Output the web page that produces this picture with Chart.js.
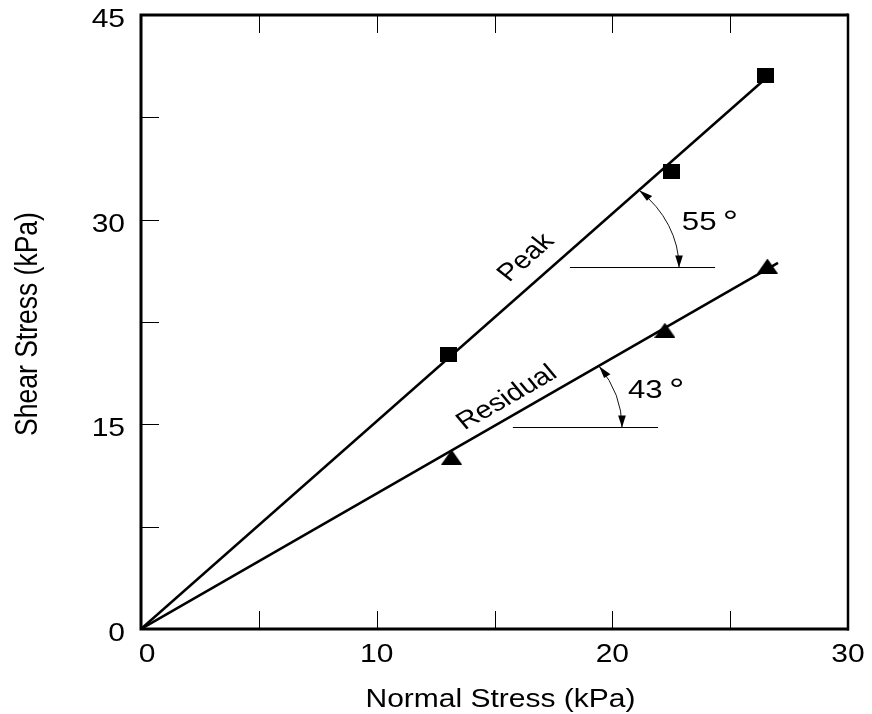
<!DOCTYPE html>
<html>
<head>
<meta charset="utf-8">
<script src="https://cdn.jsdelivr.net/npm/chart.js@4/dist/chart.umd.min.js"></script>
<style>
  html, body { margin: 0; padding: 0; background: #ffffff; }
  canvas { display: block; }
</style>
</head>
<body>
<canvas id="c" width="872" height="714"></canvas>
<script>
// ---- Data (kPa) ----
const peakNormal      = [13.05, 22.51, 26.48];
const peakShear       = [20.1, 33.5, 40.6];
const residualNormal  = [13.18, 22.23, 26.58];
const residualShear   = [12.6, 21.9, 26.6];
// fitted envelopes (through origin)
const peakLineX       = [0, 26.82];
const peakLineY       = [0, 40.82];
const residualLineX   = [0, 27.03];
const residualLineY   = [0, 26.83];
// axis ticks
const xTickLabels = [0, 10, 20, 30];
const xTickMarks  = [5, 10, 15, 20, 25];
const yTickLabels = [0, 15, 30, 45];
const yTickMarks  = [7.5, 15, 22.5, 30, 37.5];
// annotations (data units)
const peakAngleText      = '55';
const residualAngleText  = '43';
const peakRefY = 26.5,      peakRefX = [18.2, 24.36],      peakArrowX = 22.83;
const residualRefY = 14.8,  residualRefX = [15.78, 21.94], residualArrowX = 20.41;

const STRETCH = 1.2;
const FONT = '"Liberation Sans", Arial, Helvetica, sans-serif';

function pts(xs, ys) { return xs.map((x, i) => ({ x: x, y: ys[i] })); }

function makeSquare() {
  const c = document.createElement('canvas'); c.width = 17; c.height = 15;
  const g = c.getContext('2d'); g.fillStyle = '#000'; g.fillRect(0, 0, 17, 15); return c;
}
function makeTriangle() {
  const c = document.createElement('canvas'); c.width = 21; c.height = 15;
  const g = c.getContext('2d'); g.fillStyle = '#000';
  g.beginPath(); g.moveTo(10.5, 0); g.lineTo(21, 15); g.lineTo(0, 15); g.closePath(); g.fill(); return c;
}

function txt(ctx, s, x, y, size, align, baseline, angle) {
  ctx.save();
  ctx.translate(x, y);
  ctx.scale(STRETCH, 1);
  if (angle) ctx.rotate(angle);
  ctx.font = size + 'px ' + FONT;
  ctx.textAlign = align; ctx.textBaseline = baseline;
  ctx.fillStyle = '#000';
  ctx.fillText(s, 0, 0);
  ctx.restore();
}

function arrowHead(ctx, tx, ty, dx, dy) {
  const L = 12, W = 3.2;
  const bx = tx - dx * L, by = ty - dy * L;
  ctx.beginPath();
  ctx.moveTo(tx, ty);
  ctx.lineTo(bx - dy * W, by + dx * W);
  ctx.lineTo(bx + dy * W, by - dx * W);
  ctx.closePath();
  ctx.fill();
}

function angleMark(chart, lineX, lineY, refY, refX, arrowX) {
  const ctx = chart.ctx, xs = chart.scales.x, ys = chart.scales.y;
  const slope = lineY[1] / lineX[1];
  const py = ys.getPixelForValue(refY);
  ctx.save();
  ctx.strokeStyle = '#000'; ctx.lineWidth = 1;
  ctx.beginPath();
  ctx.moveTo(xs.getPixelForValue(refX[0]), Math.round(py) + 0.5);
  ctx.lineTo(xs.getPixelForValue(refX[1]), Math.round(py) + 0.5);
  ctx.stroke();
  const cx = xs.getPixelForValue(refY / slope);
  const dxl = (xs.getPixelForValue(lineX[1]) - xs.getPixelForValue(0)) / STRETCH;
  const dyl = ys.getPixelForValue(0) - ys.getPixelForValue(lineY[1]);
  const th = Math.atan2(dyl, dxl);
  const r = (xs.getPixelForValue(arrowX) - cx) / STRETCH;
  ctx.translate(cx, Math.round(py) + 0.5);
  ctx.scale(STRETCH, 1);
  ctx.lineWidth = 1 / STRETCH;
  ctx.beginPath();
  ctx.arc(0, 0, r, -th, 0, false);
  ctx.stroke();
  ctx.fillStyle = '#000';
  const phi = -th;
  arrowHead(ctx, r * Math.cos(phi), r * Math.sin(phi), Math.sin(phi), -Math.cos(phi));
  arrowHead(ctx, r, 0, 0, 1);
  ctx.restore();
  return th;
}

const decor = {
  id: 'decor',
  afterDraw(chart) {
    const ctx = chart.ctx, xs = chart.scales.x, ys = chart.scales.y;
    const a = chart.chartArea;
    ctx.save();
    ctx.strokeStyle = '#000';
    ctx.lineWidth = 1;
    ctx.beginPath();
    xTickMarks.forEach(v => {
      const px = Math.round(xs.getPixelForValue(v)) + 0.5;
      ctx.moveTo(px, a.bottom); ctx.lineTo(px, a.bottom - 18);
      ctx.moveTo(px, a.top); ctx.lineTo(px, a.top + 18);
    });
    yTickMarks.forEach(v => {
      const py = Math.round(ys.getPixelForValue(v)) + 0.5;
      ctx.moveTo(a.left, py); ctx.lineTo(a.left + 18, py);
    });
    ctx.stroke();
    ctx.lineWidth = 3;
    ctx.beginPath();
    ctx.moveTo(a.left, a.top); ctx.lineTo(a.right, a.top);
    ctx.moveTo(a.left, a.top - 1.5); ctx.lineTo(a.left, a.bottom + 1.5);
    ctx.moveTo(a.left, a.bottom); ctx.lineTo(a.right + 1, a.bottom);
    ctx.stroke();
    ctx.lineWidth = 2.5;
    ctx.beginPath();
    ctx.moveTo(a.right, a.top - 1.5); ctx.lineTo(a.right, a.bottom + 1.5);
    ctx.stroke();
    ctx.restore();

    // tick labels
    xTickLabels.forEach(v => txt(ctx, String(v), xs.getPixelForValue(v) + (v === 0 ? 6 : 0), a.bottom + 33, 25, 'center', 'alphabetic'));
    yTickLabels.forEach(v => txt(ctx, String(v), a.left - 16, ys.getPixelForValue(v) + 12, 25, 'right', 'alphabetic'));
    // axis titles
    txt(ctx, 'Normal Stress (kPa)', (a.left + a.right) / 2 + 6, 707, 25, 'center', 'alphabetic');
    txt(ctx, 'Shear Stress (kPa)', 37, (a.top + a.bottom) / 2 + 2, 26.5, 'center', 'alphabetic', -Math.PI / 2);

    // angle annotations
    const thP = angleMark(chart, peakLineX, peakLineY, peakRefY, peakRefX, peakArrowX);
    const thR = angleMark(chart, residualLineX, residualLineY, residualRefY, residualRefX, residualArrowX);

    // line labels
    txt(ctx, 'Peak', xs.getPixelForValue(16.34), ys.getPixelForValue(27.2), 24.5, 'center', 'middle', -thP);
    txt(ctx, 'Residual', xs.getPixelForValue(15.53), ys.getPixelForValue(16.93), 24.5, 'center', 'middle', -thR);

    // angle values
    const p55x = xs.getPixelForValue(22.95), p55y = ys.getPixelForValue(29.24);
    txt(ctx, peakAngleText, p55x, p55y, 26, 'left', 'alphabetic');
    txt(ctx, '\u00B0', p55x + 41, p55y + 2, 32, 'left', 'alphabetic');
    const p43x = xs.getPixelForValue(20.66), p43y = ys.getPixelForValue(16.93);
    txt(ctx, residualAngleText, p43x, p43y, 26, 'left', 'alphabetic');
    txt(ctx, '\u00B0', p43x + 41, p43y + 2, 32, 'left', 'alphabetic');
  }
};

const sq = makeSquare(), tri = makeTriangle();

new Chart(document.getElementById('c'), {
  type: 'scatter',
  data: {
    datasets: [
      { label: 'Peak envelope', data: pts(peakLineX, peakLineY), showLine: true, pointRadius: 0,
        borderColor: '#000', borderWidth: 2.5, order: 2 },
      { label: 'Residual envelope', data: pts(residualLineX, residualLineY), showLine: true, pointRadius: 0,
        borderColor: '#000', borderWidth: 2.5, order: 2 },
      { label: 'Peak', data: pts(peakNormal, peakShear), pointStyle: sq, pointRadius: 9,
        backgroundColor: '#000', borderColor: '#000', order: 1 },
      { label: 'Residual', data: pts(residualNormal, residualShear), pointStyle: tri, pointRadius: 10,
        backgroundColor: '#000', borderColor: '#000', order: 1 }
    ]
  },
  options: {
    responsive: false,
    animation: false,
    layout: { padding: { top: 15, right: 24, left: 0, bottom: 0 } },
    plugins: { legend: { display: false }, tooltip: { enabled: false } },
    scales: {
      x: { type: 'linear', min: 0, max: 30,
           ticks: { display: false }, grid: { display: false }, border: { display: false },
           afterFit(s) { s.height = 85; } },
      y: { type: 'linear', min: 0, max: 45,
           ticks: { display: false }, grid: { display: false }, border: { display: false },
           afterFit(s) { s.width = 141; } }
    }
  },
  plugins: [decor]
});
</script>
</body>
</html>
